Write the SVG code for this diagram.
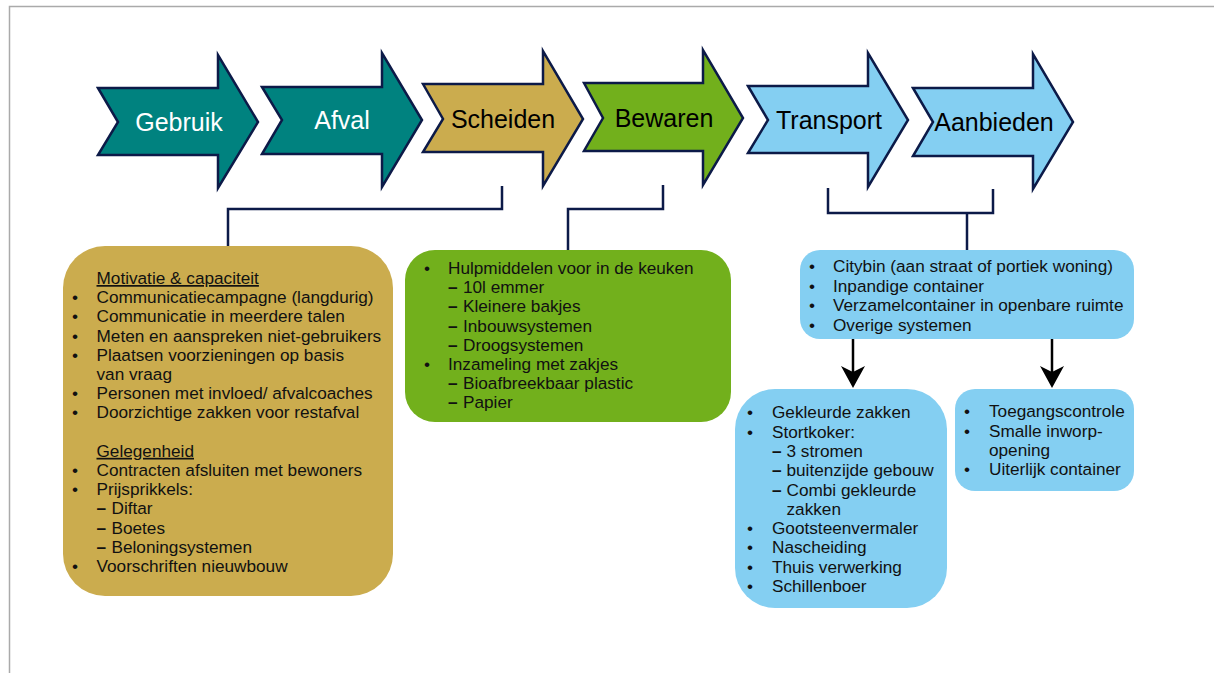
<svg xmlns="http://www.w3.org/2000/svg" width="1214" height="673" viewBox="0 0 1214 673">
<style>
.ar{stroke:#0c1a48;stroke-width:2.5;stroke-linejoin:miter}
.teal{fill:#00827f}
.tan{fill:#cbac4e}
.grn{fill:#72b01c}
.blu{fill:#84cff2}
.lbl{font-family:"Liberation Sans",Arial,sans-serif;font-size:25px;text-anchor:middle}
.t{font-family:"Liberation Sans",Arial,sans-serif;font-size:17.2px;fill:#111}
.con{fill:none;stroke:#0c1a48;stroke-width:2.5}
.arw{fill:none;stroke:#000;stroke-width:2.5}
.hd{fill:#000}
</style>
<rect width="1214" height="673" fill="#fff"/>
<path d="M9.5,673 V6.5 H1214" fill="none" stroke="#aaa" stroke-width="1.5"/>

<g id="connectors">
<path class="con" d="M228,246 V209 H502 V186"/>
<path class="con" d="M568,250 V209 H663 V185"/>
<path class="con" d="M828,188 V213 H993 V189"/>
<path class="con" d="M967,213 V250"/>
<path class="arw" d="M853,337 V372"/>
<path class="hd" d="M841,366 L853,388 L865,366 L853,372 Z"/>
<path class="arw" d="M1052,316 V372"/>
<path class="hd" d="M1040,366 L1052,388 L1064,366 L1052,372 Z"/>
</g>

<g id="arrow-gebruik">
<path class="ar teal" d="M98,88 L118,122 L98,155 L218,155 L218,188 L258,122 L218,55 L218,88 Z"/>
<text class="lbl" x="179" y="131" fill="#fff">Gebruik</text>
</g>
<g id="arrow-afval">
<path class="ar teal" d="M262,87 L282,120 L262,154 L382,154 L382,187 L422,120 L382,53 L382,87 Z"/>
<text class="lbl" x="342" y="129" fill="#fff">Afval</text>
</g>
<g id="arrow-scheiden">
<path class="ar tan" d="M423,84 L443,119 L423,152 L543,152 L543,186 L583,119 L543,51 L543,84 Z"/>
<text class="lbl" x="503" y="128" fill="#000">Scheiden</text>
</g>
<g id="arrow-bewaren">
<path class="ar grn" d="M584,83 L603,118 L584,151 L703,151 L703,185 L743,118 L703,50 L703,83 Z"/>
<text class="lbl" x="664" y="127" fill="#000">Bewaren</text>
</g>
<g id="arrow-transport">
<path class="ar blu" d="M748,86 L768,120 L748,153 L868,153 L868,187 L908,120 L868,53 L868,86 Z"/>
<text class="lbl" x="829" y="129" fill="#000">Transport</text>
</g>
<g id="arrow-aanbieden">
<path class="ar blu" d="M913,88 L933,122 L913,156 L1033,156 L1033,189 L1073,122 L1033,54 L1033,88 Z"/>
<text class="lbl" x="994" y="131" fill="#000">Aanbieden</text>
</g>

<g id="box-gebruik">
<rect class="tan" x="63" y="246" width="330" height="350" rx="42" ry="42"/>
<text class="t" x="96.5" y="284" text-decoration="underline">Motivatie &amp; capaciteit</text>
<g>
<text class="t" x="72" y="303.2">•</text>
<text class="t" x="72" y="322.4">•</text>
<text class="t" x="72" y="341.6">•</text>
<text class="t" x="72" y="360.8">•</text>
<text class="t" x="72" y="399.2">•</text>
<text class="t" x="72" y="418.4">•</text>
<text class="t" x="72" y="476">•</text>
<text class="t" x="72" y="495.2">•</text>
<text class="t" x="72" y="572">•</text>
</g>
<text class="t" x="96.5" y="303.2">Communicatiecampagne (langdurig)</text>
<text class="t" x="96.5" y="322.4">Communicatie in meerdere talen</text>
<text class="t" x="96.5" y="341.6">Meten en aanspreken niet-gebruikers</text>
<text class="t" x="96.5" y="360.8">Plaatsen voorzieningen op basis</text>
<text class="t" x="96.5" y="380">van vraag</text>
<text class="t" x="96.5" y="399.2">Personen met invloed/ afvalcoaches</text>
<text class="t" x="96.5" y="418.4">Doorzichtige zakken voor restafval</text>
<text class="t" x="96.5" y="456.8" text-decoration="underline">Gelegenheid</text>
<text class="t" x="96.5" y="476">Contracten afsluiten met bewoners</text>
<text class="t" x="96.5" y="495.2">Prijsprikkels:</text>
<text class="t" x="96.5" y="514.4" font-weight="bold">–</text><text class="t" x="111.5" y="514.4">Diftar</text>
<text class="t" x="96.5" y="533.6" font-weight="bold">–</text><text class="t" x="111.5" y="533.6">Boetes</text>
<text class="t" x="96.5" y="552.8" font-weight="bold">–</text><text class="t" x="111.5" y="552.8">Beloningsystemen</text>
<text class="t" x="96.5" y="572">Voorschriften nieuwbouw</text>
</g>

<g id="box-bewaren">
<rect class="grn" x="405" y="250" width="326" height="172" rx="30" ry="30"/>
<text class="t" x="424" y="274">•</text>
<text class="t" x="424" y="370">•</text>
<text class="t" x="448" y="274">Hulpmiddelen voor in de keuken</text>
<text class="t" x="448" y="293.2" font-weight="bold">–</text><text class="t" x="463" y="293.2">10l emmer</text>
<text class="t" x="448" y="312.4" font-weight="bold">–</text><text class="t" x="463" y="312.4">Kleinere bakjes</text>
<text class="t" x="448" y="331.6" font-weight="bold">–</text><text class="t" x="463" y="331.6">Inbouwsystemen</text>
<text class="t" x="448" y="350.8" font-weight="bold">–</text><text class="t" x="463" y="350.8">Droogsystemen</text>
<text class="t" x="448" y="370">Inzameling met zakjes</text>
<text class="t" x="448" y="389.2" font-weight="bold">–</text><text class="t" x="463" y="389.2">Bioafbreekbaar plastic</text>
<text class="t" x="448" y="408.4" font-weight="bold">–</text><text class="t" x="463" y="408.4">Papier</text>
</g>

<g id="box-transport">
<rect class="blu" x="800" y="250" width="334" height="89" rx="20" ry="20"/>
<text class="t" x="809" y="272.3">•</text>
<text class="t" x="809" y="291.7">•</text>
<text class="t" x="809" y="311.1">•</text>
<text class="t" x="809" y="330.5">•</text>
<text class="t" x="833" y="272.3">Citybin (aan straat of portiek woning)</text>
<text class="t" x="833" y="291.7">Inpandige container</text>
<text class="t" x="833" y="311.1">Verzamelcontainer in openbare ruimte</text>
<text class="t" x="833" y="330.5">Overige systemen</text>
</g>

<g id="box-inzameling">
<rect class="blu" x="735" y="389" width="212" height="219" rx="40" ry="40"/>
<text class="t" x="747" y="418.3">•</text>
<text class="t" x="747" y="437.6">•</text>
<text class="t" x="747" y="534.1">•</text>
<text class="t" x="747" y="553.4">•</text>
<text class="t" x="747" y="572.7">•</text>
<text class="t" x="747" y="592">•</text>
<text class="t" x="772" y="418.3">Gekleurde zakken</text>
<text class="t" x="772" y="437.6">Stortkoker:</text>
<text class="t" x="772" y="456.9" font-weight="bold">–</text><text class="t" x="786.5" y="456.9">3 stromen</text>
<text class="t" x="772" y="476.2" font-weight="bold">–</text><text class="t" x="786.5" y="476.2">buitenzijde gebouw</text>
<text class="t" x="772" y="495.5" font-weight="bold">–</text><text class="t" x="786.5" y="495.5">Combi gekleurde</text>
<text class="t" x="786.5" y="514.8">zakken</text>
<text class="t" x="772" y="534.1">Gootsteenvermaler</text>
<text class="t" x="772" y="553.4">Nascheiding</text>
<text class="t" x="772" y="572.7">Thuis verwerking</text>
<text class="t" x="772" y="592">Schillenboer</text>
</g>

<g id="box-aanbieden">
<rect class="blu" x="955" y="389" width="179" height="102" rx="20" ry="20"/>
<text class="t" x="964" y="417.3">•</text>
<text class="t" x="964" y="436.5">•</text>
<text class="t" x="964" y="474.9">•</text>
<text class="t" x="989" y="417.3">Toegangscontrole</text>
<text class="t" x="989" y="436.5">Smalle inworp-</text>
<text class="t" x="989" y="455.7">opening</text>
<text class="t" x="989" y="474.9">Uiterlijk container</text>
</g>
</svg>
